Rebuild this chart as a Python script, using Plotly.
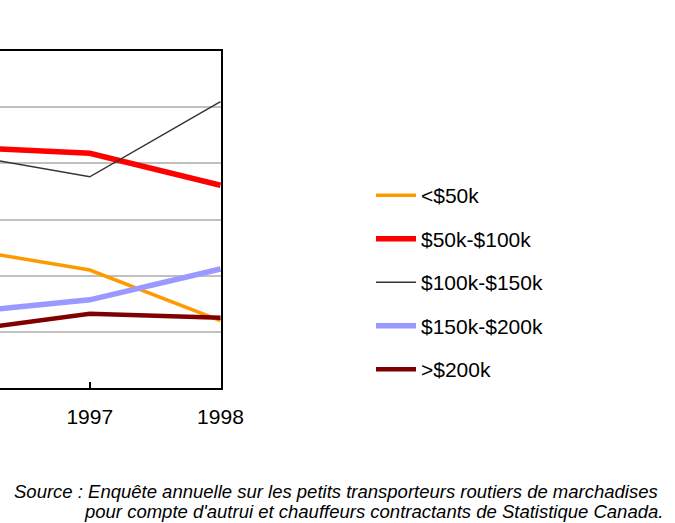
import plotly.graph_objects as go

years = [1996, 1997, 1998]
series_names = ["<$50k", "$50k-$100k", "$100k-$150k", "$150k-$200k", ">$200k"]
under_50k = [24.9, 21.0, 12.0]
k50_100 = [42.9, 41.8, 36.1]
k100_150 = [41.7, 37.6, 51.0]
k150_200 = [13.4, 15.7, 21.2]
over_200k = [10.1, 13.2, 12.5]
tick_years = [1997, 1998]
source_line1 = "Source : Enquête annuelle sur les petits transporteurs routiers de marchadises"
source_line2 = "pour compte d'autrui et chauffeurs contractants de Statistique Canada."

values = [under_50k, k50_100, k100_150, k150_200, over_200k]
colors = ["#FF9900", "#FF0000", "#333333", "#9999FF", "#800000"]
widths = [3.5, 5.5, 1.5, 5.5, 4.5]

W, H = 675, 523
PW = 221.0   # plot width in px
PH = 337.0   # plot height in px
PT = 51.0    # plot top in px
FONT = "Liberation Sans, Arial, sans-serif"

fig = go.Figure()
for name, vals, c, w in zip(series_names, values, colors, widths):
    fig.add_trace(go.Scatter(x=years, y=vals, name=name, mode="lines",
                             line=dict(color=c, width=w), legendgroup=name))

def py(p):
    return (PT + PH - p) / PH

fig.update_layout(
    width=W, height=H,
    margin=dict(l=0, r=W - PW, t=PT, b=H - PT - PH),
    paper_bgcolor="white", plot_bgcolor="white",
    font=dict(family=FONT, size=21, color="black"),
    showlegend=True,
    legend=dict(xref="container", yref="container", x=371 / W, y=1 - 175 / H,
                xanchor="left", yanchor="top", tracegroupgap=13.2, itemwidth=40,
                font=dict(size=21), bgcolor="rgba(0,0,0,0)"),
    xaxis=dict(range=[1997 - 90 / 131, 1998.004], tickvals=tick_years,
               ticktext=[str(t) for t in tick_years], ticks="inside", ticklen=6,
               tickcolor="black", tickwidth=1.5, showgrid=False, zeroline=False,
               showline=True, linecolor="black", linewidth=2, mirror=True,
               tickfont=dict(size=21), ticklabelstandoff=9),
    yaxis=dict(range=[0, 60], dtick=10, showticklabels=False, ticks="",
               showgrid=True, gridcolor="#C0C0C0", gridwidth=1.5, zeroline=False,
               side="right", showline=True, linecolor="black", linewidth=2),
    annotations=[
        dict(text=source_line1, xref="paper", yref="paper",
             x=660 / PW, y=py(491.5), xanchor="right", yanchor="middle",
             showarrow=False, font=dict(size=18.5, style="italic")),
        dict(text=source_line2, xref="paper", yref="paper",
             x=665 / PW, y=py(511.5), xanchor="right", yanchor="middle",
             showarrow=False, font=dict(size=18.5, style="italic")),
    ],
)

fig.write_html("out.html", config={"displayModeBar": False},
               post_script="document.body.style.margin='0';")
